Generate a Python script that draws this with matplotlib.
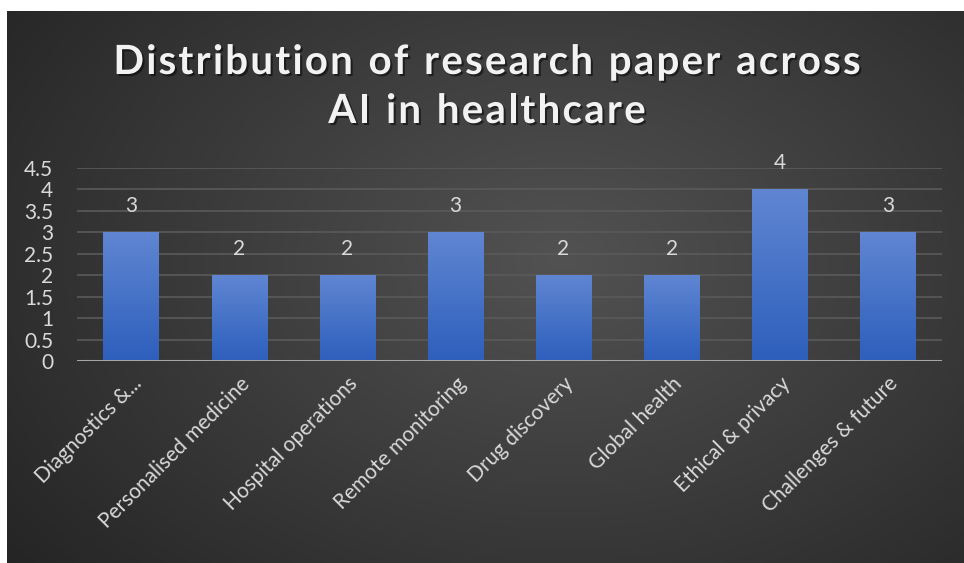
import matplotlib
matplotlib.use("Agg")
import matplotlib.pyplot as plt
import matplotlib.patheffects as pe
import matplotlib.transforms as mtrans
import numpy as np

categories = ["Diagnostics &...", "Personalised medicine", "Hospital operations",
              "Remote monitoring", "Drug discovery", "Global health",
              "Ethical & privacy", "Challenges & future"]
papers = [3, 2, 2, 3, 2, 2, 4, 3]
y_ticks = [0, 0.5, 1, 1.5, 2, 2.5, 3, 3.5, 4, 4.5]
y_tick_labels = ["0", "0.5", "1", "1.5", "2", "2.5", "3", "3.5", "4", "4.5"]
title_lines = ["Distribution of research paper across", "AI in healthcare"]

W, H = 964, 563
fig = plt.figure(figsize=(W / 100, H / 100), dpi=100)
fig.patch.set_facecolor("white")

# dark radial background panel
bg = fig.add_axes([7 / W, 0, 1 - 7 / W, 1 - 11 / H])
bg.set_axis_off()
gx, gy = np.meshgrid(np.linspace(0, 1, 400), np.linspace(0, 1, 240))
r = np.sqrt(((gx - 0.58) / 0.75) ** 2 + ((gy - 0.45) / 0.9) ** 2)
r = np.clip(r, 0, 1)
c0 = np.array([0x52, 0x52, 0x52]) / 255
c1 = np.array([0x24, 0x24, 0x24]) / 255
img = c0[None, None, :] * (1 - r[..., None]) + c1[None, None, :] * r[..., None]
bg.imshow(img, extent=[0, 1, 0, 1], aspect="auto", origin="upper")
bg.set_xlim(0, 1)
bg.set_ylim(0, 1)

# plot area
x0, x1 = 77, 942
ytop_px, ybot_px = 168.0, 361.0
ymax = 4.5
ax = fig.add_axes([x0 / W, 1 - ybot_px / H, (x1 - x0) / W, (ybot_px - ytop_px) / H])
ax.patch.set_alpha(0)
xs = np.arange(len(categories))
ax.set_xlim(-0.5, len(categories) - 0.5)
ax.set_ylim(0, ymax)

for yv in y_ticks[1:]:
    ax.axhline(yv, color="#5a5a5a", lw=1.2, zorder=1)

bars = ax.bar(xs, papers, width=0.51, color="#4472c4", zorder=2)
grad = np.linspace(0, 1, 256)[:, None]
top = np.array([0x60, 0x86, 0xd2]) / 255
bot = np.array([0x2d, 0x5f, 0xbc]) / 255
gimg = top[None, None, :] * (1 - grad[..., None]) + bot[None, None, :] * grad[..., None]
for b in bars:
    bx, by = b.get_x(), b.get_y()
    bw, bh = b.get_width(), b.get_height()
    im = ax.imshow(gimg, extent=[bx, bx + bw, by, by + bh], aspect="auto",
                   origin="upper", zorder=2.5)
    im.set_clip_path(b)

ax.axhline(0, color="#a6a6a6", lw=2.2, zorder=3)

for x, v in zip(xs, papers):
    ax.annotate(str(v), (x, v), xytext=(0, 12), textcoords="offset points",
                ha="center", va="bottom", color="#d9d9d9", fontsize=15,
                family="Lato")

ax.set_yticks(y_ticks)
ax.set_yticklabels(y_tick_labels, color="#d9d9d9", fontsize=15, family="Lato")
ax.set_xticks(xs)
ax.set_xticklabels(categories, rotation=45, ha="right", rotation_mode="anchor",
                   color="#d9d9d9", fontsize=15, family="Lato")
shift = mtrans.ScaledTranslation(-9 / 100, 0, fig.dpi_scale_trans)
for lab in ax.get_xticklabels():
    lab.set_transform(lab.get_transform() + shift)
ax.tick_params(axis="both", length=0)
ax.tick_params(axis="y", pad=17)
ax.tick_params(axis="x", pad=9)
for s in ax.spines.values():
    s.set_visible(False)

# title with letter spacing (drawn char by char)
fig.canvas.draw()
renderer = fig.canvas.get_renderer()
tkw = dict(color="#f2f2f2", fontsize=29, fontweight="bold", family="Lato",
           ha="left", va="baseline",
           path_effects=[pe.withSimplePatchShadow(offset=(1.5, -1.5),
                                                  shadow_rgbFace="black", alpha=0.5)])
tracking = 2.2  # px between letters
baselines = [74, 123]
for line, base in zip(title_lines, baselines):
    widths = []
    for ch in line:
        t = fig.text(0, 0, ch if ch != " " else "a", **tkw)
        w = t.get_window_extent(renderer).width
        if ch == " ":
            w *= 0.55
        widths.append(w)
        t.remove()
    total = sum(widths) + tracking * (len(line) - 1)
    xpos = 487 - total / 2
    for ch, w in zip(line, widths):
        if ch != " ":
            fig.text(xpos / W, 1 - base / H, ch, **tkw)
        xpos += w + tracking

fig.savefig("out.png", dpi=100)
